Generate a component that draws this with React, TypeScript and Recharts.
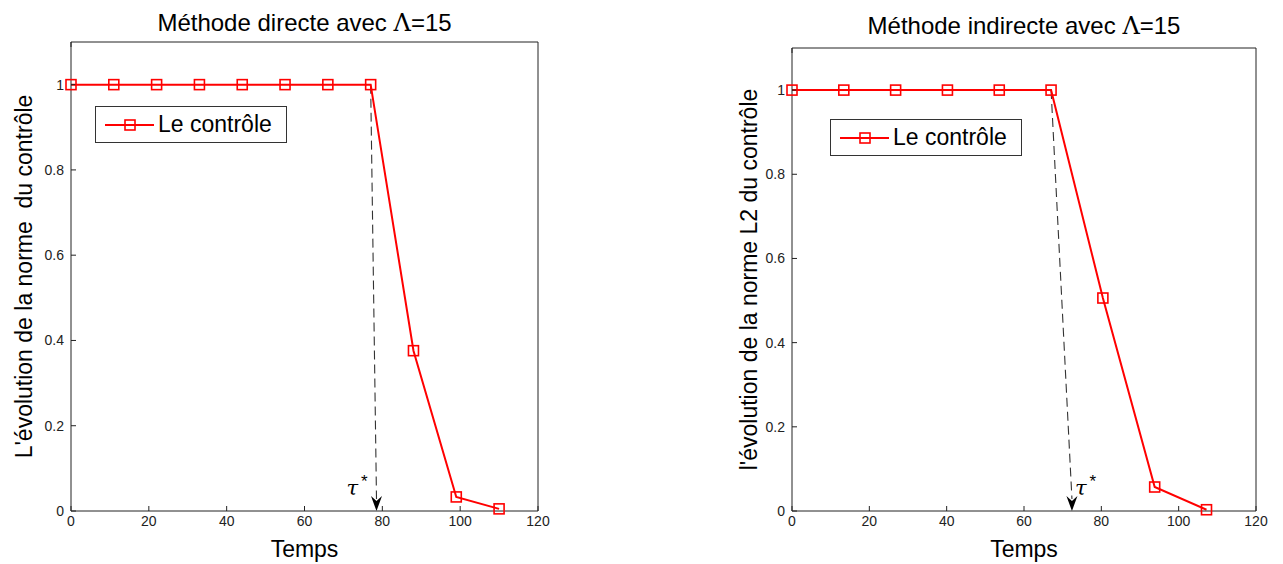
import React from 'react';
import { LineChart, Line, XAxis, YAxis, Legend, ReferenceLine } from 'recharts';

// axis ticks shared by both panels
const xTicks = [0, 20, 40, 60, 80, 100, 120];
const yTicks = [0, 0.2, 0.4, 0.6, 0.8, 1];

// Méthode directe
const directTime = [0, 11, 22, 33, 44, 55, 66, 77, 88, 99, 110];
const directNorm = [1, 1, 1, 1, 1, 1, 1, 1, 0.376, 0.033, 0.005];
const directTauStart = [77, 1];
const directTauEnd = [78.5, 0];

// Méthode indirecte
const indirectTime = [0, 13.4, 26.8, 40.2, 53.6, 67, 80.4, 93.8, 107.2];
const indirectNorm = [1, 1, 1, 1, 1, 1, 0.506, 0.057, 0.003];
const indirectTauStart = [67, 1];
const indirectTauEnd = [72.4, 0];

const H = 564;
const AXIS = '#222';
const RED = '#ff0000';
const SANS = '"Liberation Sans", Arial, sans-serif';

type PanelProps = {
  left: number;
  width: number;
  plot: { x0: number; x1: number; y0: number; y1: number };
  method: string;
  yLabel: string;
  yLabelX: number;
  titleY: number;
  times: number[];
  norms: number[];
  tauStart: number[];
  tauEnd: number[];
  tauDx: number;
  legendPos: { x: number; y: number };
};

const SquareDot = (p: any) => {
  if (p.cx == null || p.cy == null) return <g key={p.index} />;
  return (
    <rect
      key={p.index}
      x={p.cx - 5}
      y={p.cy - 5}
      width={10}
      height={10}
      fill="none"
      stroke={RED}
      strokeWidth={1.6}
    />
  );
};

const LegendBox = () => (
  <div
    style={{
      display: 'flex',
      alignItems: 'center',
      width: 190,
      height: 35,
      border: '1px solid #333',
      background: '#fff',
      fontFamily: SANS,
      fontSize: 23,
      color: '#000',
    }}
  >
    <svg width={62} height={35}>
      <line x1={9} y1={18} x2={58} y2={18} stroke={RED} strokeWidth={2} />
      <rect x={29} y={13} width={10} height={10} fill="none" stroke={RED} strokeWidth={1.6} />
    </svg>
    <span>Le contrôle</span>
  </div>
);

const Panel = (props: PanelProps) => {
  const { left, width, plot, method, yLabel, yLabelX, titleY, times, norms, tauStart, tauEnd, tauDx, legendPos } = props;
  const rows = times.map((t, i) => ({ t, v: norms[i] }));
  const cx = (plot.x0 + plot.x1) / 2;
  const cy = (plot.y0 + plot.y1) / 2;

  const tauShape = (s: any) => {
    const { x1, y1, x2, y2 } = s;
    return (
      <g>
        <line x1={x1} y1={y1} x2={x2} y2={y2 - 12} stroke="#333" strokeWidth={1.1} strokeDasharray="9 5" />
        <polygon points={`${x2},${y2} ${x2 - 5.5},${y2 - 15} ${x2},${y2 - 10} ${x2 + 5.5},${y2 - 15}`} fill="#000" />
        <text x={x2 + tauDx} y={y2 - 16} fontFamily='"DejaVu Serif", serif' fontStyle="italic" fontSize={21} fill="#000">
          τ
          <tspan dx={3} dy={-8} fontStyle="normal" fontFamily={SANS} fontSize={17}>*</tspan>
        </text>
      </g>
    );
  };

  return (
    <div style={{ position: 'absolute', left, top: 0 }}>
      <LineChart
        width={width}
        height={H}
        data={rows}
        margin={{
          top: plot.y0 - 10,
          right: width - plot.x1 - 10,
          bottom: H - plot.y1 - 50,
          left: plot.x0 - 50,
        }}
      >
        <XAxis
          xAxisId="b"
          dataKey="t"
          type="number"
          domain={[0, 120]}
          ticks={xTicks}
          interval={0}
          height={50}
          tickSize={-5}
          tickMargin={10}
          stroke={AXIS}
          tick={{ fill: AXIS, fontSize: 14, fontFamily: SANS }}
        />
        <XAxis
          xAxisId="t"
          orientation="top"
          type="number"
          domain={[0, 120]}
          ticks={xTicks}
          interval={0}
          height={10}
          tickSize={-5}
          tickFormatter={() => ''}
          stroke={AXIS}
        />
        <YAxis
          yAxisId="l"
          type="number"
          domain={[0, 1.1]}
          ticks={yTicks}
          interval={0}
          width={50}
          tickSize={-5}
          tickMargin={12}
          stroke={AXIS}
          tick={{ fill: AXIS, fontSize: 14, fontFamily: SANS }}
        />
        <YAxis
          yAxisId="r"
          orientation="right"
          type="number"
          domain={[0, 1.1]}
          ticks={yTicks}
          interval={0}
          width={10}
          tickSize={-5}
          tickFormatter={() => ''}
          stroke={AXIS}
        />
        <ReferenceLine
          xAxisId="b"
          yAxisId="l"
          segment={[
            { x: tauStart[0], y: tauStart[1] },
            { x: tauEnd[0], y: tauEnd[1] },
          ]}
          shape={tauShape}
          ifOverflow="visible"
        />
        <Line
          xAxisId="b"
          yAxisId="l"
          dataKey="v"
          type="linear"
          stroke={RED}
          strokeWidth={2}
          dot={SquareDot}
          activeDot={false}
          isAnimationActive={false}
        />
        <Legend
          layout="horizontal"
          verticalAlign="middle"
          align="center"
          content={() => <LegendBox />}
          wrapperStyle={{ left: legendPos.x, top: legendPos.y, width: 'auto', height: 'auto' }}
        />
        <text x={cx} y={titleY} textAnchor="middle" fontFamily={SANS} fontSize={24} fill="#000">
          {`Méthode ${method} avec `}
          <tspan fontFamily='"DejaVu Serif", serif'>Λ</tspan>
          =15
        </text>
        <text
          x={yLabelX}
          y={cy}
          transform={`rotate(-90, ${yLabelX}, ${cy})`}
          textAnchor="middle"
          fontFamily={SANS}
          fontSize={23}
          fill="#000"
          style={{ whiteSpace: 'pre' }}
        >
          {yLabel}
        </text>
        <text x={cx} y={557} textAnchor="middle" fontFamily={SANS} fontSize={23} fill="#000">
          Temps
        </text>
      </LineChart>
    </div>
  );
};

export default function App() {
  return (
    <div style={{ position: 'absolute', left: 0, top: 0, width: 1283, height: H, background: '#fff' }}>
      <Panel
        left={0}
        width={560}
        plot={{ x0: 71, x1: 538, y0: 42, y1: 511 }}
        method="directe"
        yLabel="L'évolution de la norme  du contrôle"
        yLabelX={32}
        titleY={31}
        times={directTime}
        norms={directNorm}
        tauStart={directTauStart}
        tauEnd={directTauEnd}
        tauDx={-30}
        legendPos={{ x: 95, y: 106 }}
      />
      <Panel
        left={720}
        width={563}
        plot={{ x0: 72, x1: 536, y0: 48, y1: 511 }}
        method="indirecte"
        yLabel="l'évolution de la norme L2 du contrôle"
        yLabelX={37}
        titleY={34}
        times={indirectTime}
        norms={indirectNorm}
        tauStart={indirectTauStart}
        tauEnd={indirectTauEnd}
        tauDx={3}
        legendPos={{ x: 110, y: 119 }}
      />
    </div>
  );
}
